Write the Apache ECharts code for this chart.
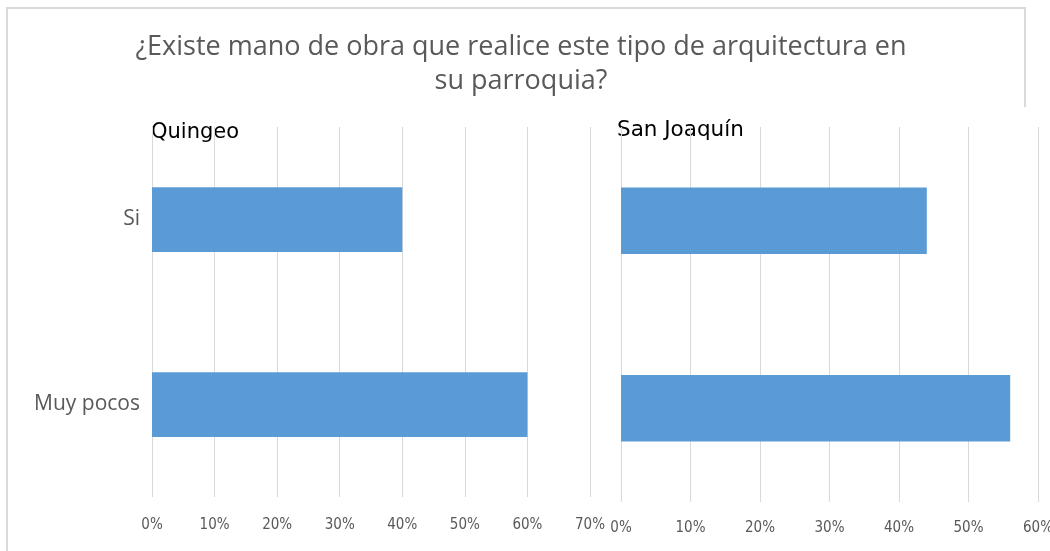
<!DOCTYPE html>
<html>
<head>
<meta charset="utf-8">
<script src="https://cdn.jsdelivr.net/npm/echarts@6/dist/echarts.min.js"></script>
<style>
  html, body { margin: 0; padding: 0; background: #ffffff; }
  #chart { width: 1050px; height: 551px; }
</style>
</head>
<body>
<div id="chart"></div>
<script>
// Survey answers per parish, share of respondents (%)
const categories = ['Si', 'Muy pocos'];
const quingeo = [40, 60];
const sanJoaquin = [44, 56];
const panelNames = ['Quingeo', 'San Joaquín'];
const titleLines = ['¿Existe mano de obra que realice este tipo de arquitectura en', 'su parroquia?'];

const barColor = '#5B9BD5';
const gridColor = '#d9d9d9';
const textGrey = '#595959';
const tickFont = '"Liberation Sans Narrow", "DejaVu Sans Condensed", "Liberation Sans", sans-serif';

function valueAxis(gridIndex, max, labelMargin) {
  return {
    type: 'value', gridIndex: gridIndex, min: 0, max: max, interval: 10,
    axisLine: { show: false }, axisTick: { show: false },
    splitLine: { show: true, showMinLine: true, showMaxLine: true, lineStyle: { color: gridColor, width: 1 } },
    axisLabel: { formatter: '{value}%', color: textGrey, fontSize: 15, fontFamily: tickFont, margin: labelMargin }
  };
}

function categoryAxis(gridIndex, showLabels) {
  return {
    type: 'category', gridIndex: gridIndex, data: categories, inverse: true,
    axisLine: { show: false }, axisTick: { show: false },
    axisLabel: { show: showLabels, color: textGrey, fontSize: 21, fontFamily: '"Open Sans", sans-serif', margin: 12 }
  };
}

const chart = echarts.init(document.getElementById('chart'), null, { renderer: 'canvas' });
chart.setOption({
  backgroundColor: '#ffffff',
  animation: false,
  graphic: [
    {
      type: 'polyline', silent: true,
      shape: { points: [[7, 551], [7, 8], [1025, 8], [1025, 107]] },
      style: { stroke: '#d9d9d9', lineWidth: 2, fill: null }
    },
    {
      type: 'text', left: 151, top: 122,
      style: { text: panelNames[0], fill: '#000000', fontSize: 21, fontFamily: '"DejaVu Sans", sans-serif' }
    },
    {
      type: 'text', left: 617, top: 119,
      style: { text: panelNames[1], fill: '#000000', fontSize: 21.5, fontFamily: '"DejaVu Sans", sans-serif' }
    }
  ],
  title: {
    text: titleLines.join('\n'),
    left: 516, top: 25, textAlign: 'center',
    textStyle: { color: textGrey, fontSize: 27, fontWeight: 'normal', fontFamily: '"Open Sans", sans-serif', lineHeight: 34 }
  },
  grid: [
    { left: 152, right: 1050 - 590, top: 127, bottom: 551 - 497, containLabel: false, outerBoundsMode: 'none' },
    { left: 621, right: 1050 - 1038, top: 127, bottom: 551 - 502, containLabel: false, outerBoundsMode: 'none' }
  ],
  xAxis: [valueAxis(0, 70, 21), valueAxis(1, 60, 19)],
  yAxis: [categoryAxis(0, true), categoryAxis(1, false)],
  series: [
    {
      name: panelNames[0], type: 'bar', xAxisIndex: 0, yAxisIndex: 0, data: quingeo,
      barCategoryGap: '65%', itemStyle: { color: barColor }
    },
    {
      name: panelNames[1], type: 'bar', xAxisIndex: 1, yAxisIndex: 1, data: sanJoaquin,
      barCategoryGap: '64.5%', itemStyle: { color: barColor }
    }
  ]
});
</script>
</body>
</html>
